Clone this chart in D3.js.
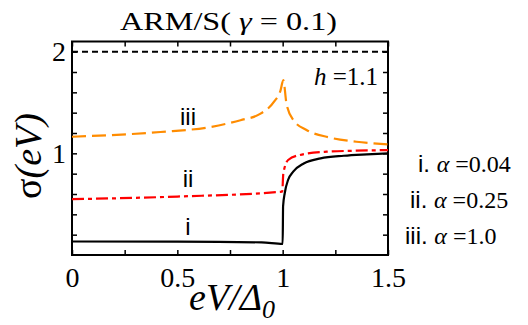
<!DOCTYPE html>
<html>
<head>
<meta charset="utf-8">
<script src="https://cdn.jsdelivr.net/npm/d3@7"></script>
</head>
<body style="margin:0">
<div id="chart"></div>
<script>
// data
const xTicks = [0, 0.25, 0.5, 0.75, 1, 1.25, 1.5];
const xTickLabels = {0: "0", 0.5: "0.5", 1: "1", 1.5: "1.5"};
const yTicks = [0.2, 0.4, 0.6, 0.8, 1, 1.2, 1.4, 1.6, 1.8, 2];
const yTickLabels = {1: "1", 2: "2"};

const xI = [0, 0.5, 0.9, 1.0, 1.002, 1.01, 1.026, 1.05, 1.1, 1.18, 1.29, 1.4, 1.5];
const yI = [0.133, 0.132, 0.124, 0.108, 0.48, 0.61, 0.74, 0.82, 0.90, 0.95, 0.976, 0.99, 1.0];

const xII = [0, 0.5, 0.998, 1.003, 1.026, 1.08, 1.21, 1.35, 1.5];
const yII = [0.549, 0.575, 0.624, 0.80, 0.934, 0.983, 1.016, 1.026, 1.032];

const xIII = [0, 0.42, 0.66, 0.80, 0.895, 0.96, 0.99, 1.003, 1.018, 1.05, 1.113, 1.22, 1.35, 1.5];
const yIII = [1.163, 1.21, 1.26, 1.326, 1.39, 1.51, 1.62, 1.72, 1.49, 1.33, 1.23, 1.157, 1.114, 1.088];

const limit = 2;

const SERIF = "Liberation Serif";
const SANS = "Liberation Sans";

const W = 528, H = 325;
const x = d3.scaleLinear().domain([0, 1.5]).range([72, 388]);
const y = d3.scaleLinear().domain([0, 2.1]).range([255, 41.5]);

const svg = d3.select("#chart").append("svg")
    .attr("width", W).attr("height", H)
    .style("background", "#fff");

// frame + ticks
function styleAxis(g) {
    g.attr("font-family", SERIF).attr("font-size", 28);
    g.select(".domain").remove();
    g.selectAll(".tick line").attr("stroke", "#000").attr("stroke-width", 1.5);
    g.selectAll(".tick text").attr("font-family", SERIF).attr("font-size", 28).attr("fill", "#000");
}

svg.append("g")
    .attr("transform", "translate(0," + y(0) + ")")
    .call(d3.axisBottom(x).tickValues(xTicks).tickSizeInner(-5).tickSizeOuter(0)
        .tickPadding(12).tickFormat(d => xTickLabels[d] || ""))
    .call(styleAxis);

svg.append("g")
    .attr("transform", "translate(0," + y.range()[1] + ")")
    .call(d3.axisTop(x).tickValues(xTicks).tickSizeInner(-5).tickSizeOuter(0).tickFormat(""))
    .call(styleAxis);

svg.append("g")
    .attr("transform", "translate(" + x(0) + ",0)")
    .call(d3.axisLeft(y).tickValues(yTicks).tickSizeInner(-5).tickSizeOuter(0)
        .tickPadding(6).tickFormat(d => yTickLabels[d] || ""))
    .call(styleAxis);

svg.append("g")
    .attr("transform", "translate(" + x(1.5) + ",0)")
    .call(d3.axisRight(y).tickValues(yTicks).tickSizeInner(-5).tickSizeOuter(0).tickFormat(""))
    .call(styleAxis);

svg.append("rect")
    .attr("x", x(0)).attr("y", y.range()[1])
    .attr("width", x(1.5) - x(0)).attr("height", y(0) - y.range()[1])
    .attr("fill", "none").attr("stroke", "#000").attr("stroke-width", 2);

// curves
const line = d3.line()
    .x(d => x(d[0]))
    .y(d => y(d[1]))
    .curve(d3.curveMonotoneX);

const series = [
    {xs: xI, ys: yI, color: "#000", dash: null},
    {xs: xII, ys: yII, color: "#ff0000", dash: "12,4,4,4"},
    {xs: xIII, ys: yIII, color: "#ff8c00", dash: "14,6"}
];

svg.append("line")
    .attr("x1", x(0)).attr("x2", x(1.5))
    .attr("y1", y(limit)).attr("y2", y(limit))
    .attr("stroke", "#000").attr("stroke-width", 2)
    .attr("stroke-dasharray", "6,4");

series.forEach(s => {
    svg.append("path")
        .datum(s.xs.map((v, i) => [v, s.ys[i]]))
        .attr("d", line)
        .attr("fill", "none")
        .attr("stroke", s.color)
        .attr("stroke-width", 2.2)
        .attr("stroke-dasharray", s.dash);
});

// curve labels
[["iii", 125], ["ii", 187], ["i", 235]].forEach(d => {
    svg.append("text")
        .attr("font-family", SANS)
        .attr("x", 188).attr("y", d[1])
        .attr("text-anchor", "middle")
        .attr("font-size", 24)
        .text(d[0]);
});

// title
const title = svg.append("text")
    .attr("font-family", SERIF)
    .attr("x", 228.5).attr("y", 30)
    .attr("text-anchor", "middle")
    .attr("font-size", 25)
    .attr("textLength", 217)
    .attr("lengthAdjust", "spacingAndGlyphs");
title.append("tspan").text("ARM/S( ");
title.append("tspan").attr("font-style", "italic").text("γ");
title.append("tspan").text(" = 0.1)");

// h label
const hl = svg.append("text")
    .attr("font-family", SERIF)
    .attr("x", 378).attr("y", 85)
    .attr("text-anchor", "end")
    .attr("font-size", 25);
hl.append("tspan").attr("font-style", "italic").text("h");
hl.append("tspan").text(" =1.1");

// axis titles
const yl = svg.append("text")
    .attr("font-family", SERIF)
    .attr("transform", "translate(41,156) rotate(-90)")
    .attr("text-anchor", "middle")
    .attr("font-size", 38);
yl.append("tspan").text("σ");
yl.append("tspan").attr("font-style", "italic").text("(eV)");

const xl = svg.append("text")
    .attr("font-family", SERIF)
    .attr("x", 232).attr("y", 310)
    .attr("text-anchor", "middle")
    .attr("font-size", 38)
    .attr("font-style", "italic");
xl.append("tspan").text("eV/Δ");
xl.append("tspan").attr("font-size", 26).attr("dy", 8).text("0");

// legend text
const legend = [["i.", "0.04", 418, 172], ["ii.", "0.25", 410, 208], ["iii.", "1.0", 405, 244]];
legend.forEach(d => {
    const t = svg.append("text")
        .attr("font-family", SERIF)
        .attr("x", d[2]).attr("y", d[3])
        .attr("font-size", 24);
    t.append("tspan").attr("font-family", SANS).text(d[0] + " ");
    t.append("tspan").attr("font-style", "italic").text("α");
    t.append("tspan").text(" =" + d[1]);
});
</script>
</body>
</html>
